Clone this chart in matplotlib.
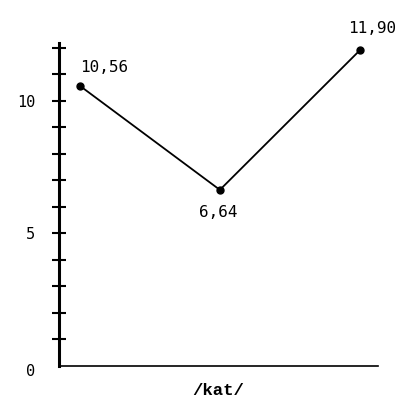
import matplotlib.pyplot as plt

# Values for the /kat/ item
positions = [0, 1, 2]
values = [10.56, 6.64, 11.90]
value_labels = ['10,56', '6,64', '11,90']
y_ticks = list(range(1, 13))
y_labels = [0, 5, 10]
x_label = '/kat/'

fig = plt.figure(figsize=(4.13, 4.03), dpi=100)
ax = fig.add_axes([0.143, 0.092, 0.772, 0.802])

ax.plot(positions, values, color='black', linewidth=1.3,
        marker='o', markersize=5)

# value labels next to each point
offsets = [((0, 13), 'left'),
           ((-1, -16), 'center'),
           ((9, 16), 'center')]
for x, y, txt, (off, ha) in zip(positions, values, value_labels, offsets):
    ax.annotate(txt, (x, y), xytext=off, textcoords='offset points',
                ha=ha, va='center', fontsize=11.5, family='DejaVu Sans Mono')

ax.set_xlim(-0.15, 2.13)
ax.set_ylim(0, 12.19)

for side in ['top', 'right']:
    ax.spines[side].set_visible(False)
ax.spines['left'].set_linewidth(2.2)
ax.spines['bottom'].set_linewidth(1.2)

ax.set_yticks(y_ticks)
ax.set_yticklabels([])
ax.tick_params(axis='y', direction='inout', length=10, width=1.5)
ax.set_xticks([])

# numbered values drawn on the left of the axis
for v in y_labels:
    dy = -4 if v == 0 else -1
    ax.annotate(str(v), (0, v), xycoords=ax.get_yaxis_transform(),
                xytext=(-17, dy), textcoords='offset points',
                ha='right', va='center', fontsize=11,
                family='DejaVu Sans Mono')
ax.set_xlabel(x_label, fontsize=12.5, family='Liberation Mono',
              fontweight='bold', labelpad=12)

fig.savefig('out.png', dpi=100)
